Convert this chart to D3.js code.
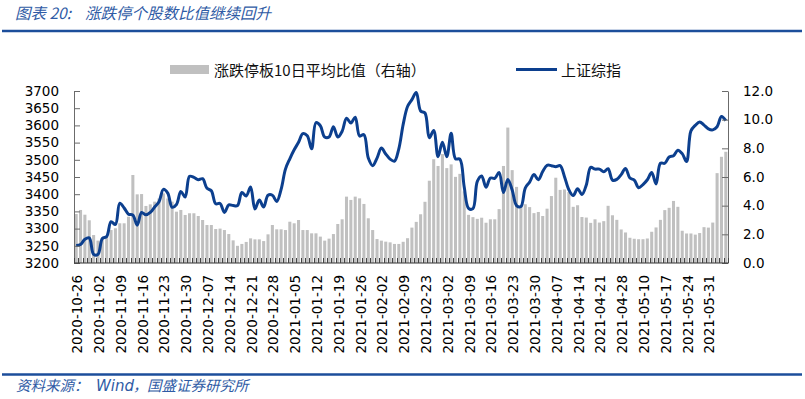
<!DOCTYPE html>
<html>
<head>
<meta charset="utf-8">
<script src="https://cdn.jsdelivr.net/npm/d3@7"></script>
<style>
  body { margin: 0; background: #fff; }
  svg { display: block; }
</style>
</head>
<body>
<svg id="chart" width="805" height="399"></svg>
<script>
// trading days shown on the category axis
const dates = [
  '2020-10-26','2020-10-27','2020-10-28','2020-10-29','2020-10-30',
  '2020-11-02','2020-11-03','2020-11-04','2020-11-05','2020-11-06',
  '2020-11-09','2020-11-10','2020-11-11','2020-11-12','2020-11-13',
  '2020-11-16','2020-11-17','2020-11-18','2020-11-19','2020-11-20',
  '2020-11-23','2020-11-24','2020-11-25','2020-11-26','2020-11-27',
  '2020-11-30','2020-12-01','2020-12-02','2020-12-03','2020-12-04',
  '2020-12-07','2020-12-08','2020-12-09','2020-12-10','2020-12-11',
  '2020-12-14','2020-12-15','2020-12-16','2020-12-17','2020-12-18',
  '2020-12-21','2020-12-22','2020-12-23','2020-12-24','2020-12-25',
  '2020-12-28','2020-12-29','2020-12-30','2020-12-31','2021-01-04',
  '2021-01-05','2021-01-06','2021-01-07','2021-01-08','2021-01-11',
  '2021-01-12','2021-01-13','2021-01-14','2021-01-15','2021-01-18',
  '2021-01-19','2021-01-20','2021-01-21','2021-01-22','2021-01-25',
  '2021-01-26','2021-01-27','2021-01-28','2021-01-29','2021-02-01',
  '2021-02-02','2021-02-03','2021-02-04','2021-02-05','2021-02-08',
  '2021-02-09','2021-02-10','2021-02-18','2021-02-19','2021-02-22',
  '2021-02-23','2021-02-24','2021-02-25','2021-02-26','2021-03-01',
  '2021-03-02','2021-03-03','2021-03-04','2021-03-05','2021-03-08',
  '2021-03-09','2021-03-10','2021-03-11','2021-03-12','2021-03-15',
  '2021-03-16','2021-03-17','2021-03-18','2021-03-19','2021-03-22',
  '2021-03-23','2021-03-24','2021-03-25','2021-03-26','2021-03-29',
  '2021-03-30','2021-03-31','2021-04-01','2021-04-02','2021-04-06',
  '2021-04-07','2021-04-08','2021-04-09','2021-04-12','2021-04-13',
  '2021-04-14','2021-04-15','2021-04-16','2021-04-19','2021-04-20',
  '2021-04-21','2021-04-22','2021-04-23','2021-04-26','2021-04-27',
  '2021-04-28','2021-04-29','2021-04-30','2021-05-06','2021-05-07',
  '2021-05-10','2021-05-11','2021-05-12','2021-05-13','2021-05-14',
  '2021-05-17','2021-05-18','2021-05-19','2021-05-20','2021-05-21',
  '2021-05-24','2021-05-25','2021-05-26','2021-05-27','2021-05-28',
  '2021-05-31','2021-06-01','2021-06-02','2021-06-03','2021-06-04'
];

// 涨跌停板10日平均比值 (right axis)
const limit_ratio = [
  3.42, 3.70, 3.37, 2.98, 1.95, 1.56, 1.75, 1.85, 2.30, 2.42,
  2.77, 2.77, 3.23, 6.14, 4.79, 4.81, 3.98, 4.09, 4.28, 4.50,
  4.86, 4.50, 4.28, 3.58, 3.70, 3.35, 3.47, 3.47, 3.28, 3.00,
  2.65, 2.65, 2.37, 2.40, 2.30, 2.02, 1.58, 1.20, 1.33, 1.47,
  1.72, 1.65, 1.65, 1.53, 2.00, 2.65, 2.35, 2.35, 2.30, 2.88,
  2.77, 3.00, 2.30, 2.30, 2.07, 2.07, 1.84, 1.56, 1.70, 2.02,
  2.72, 3.05, 4.63, 4.40, 4.63, 4.51, 4.12, 3.12, 2.30, 1.67,
  1.56, 1.49, 1.44, 1.33, 1.33, 1.48, 1.73, 2.47, 2.87, 3.40,
  4.27, 5.74, 7.24, 6.77, 7.60, 6.62, 6.88, 6.01, 6.22, 5.00,
  3.36, 3.20, 3.08, 3.16, 2.81, 3.05, 3.05, 3.76, 6.77, 9.45,
  6.48, 5.31, 4.00, 4.10, 3.90, 3.48, 3.56, 3.28, 3.79, 4.67,
  5.95, 5.10, 5.13, 4.95, 3.92, 4.03, 3.21, 3.17, 2.80, 3.05,
  2.82, 2.92, 3.99, 3.33, 3.01, 2.34, 2.13, 1.76, 1.69, 1.66,
  1.66, 1.71, 2.18, 2.48, 3.01, 3.69, 3.85, 4.33, 3.92, 2.25,
  2.06, 2.06, 1.98, 2.09, 2.50, 2.47, 2.82, 6.27, 7.41, 7.76
];

// 上证综指 (left axis)
const sh_index = [
  3251, 3254, 3269, 3273, 3225, 3225, 3271, 3277, 3320, 3312,
  3374, 3360, 3342, 3339, 3310, 3347, 3340, 3347, 3363, 3378,
  3414, 3403, 3362, 3370, 3408, 3392, 3452, 3449, 3442, 3445,
  3417, 3410, 3372, 3373, 3347, 3369, 3367, 3367, 3405, 3395,
  3421, 3357, 3383, 3363, 3397, 3397, 3379, 3414, 3473, 3503,
  3529, 3551, 3576, 3570, 3532, 3608, 3599, 3566, 3566, 3596,
  3566, 3583, 3621, 3607, 3624, 3569, 3573, 3505, 3483, 3505,
  3534, 3517, 3502, 3496, 3532, 3603, 3655, 3675, 3696, 3642,
  3636, 3564, 3585, 3509, 3551, 3509, 3577, 3503, 3502, 3421,
  3359, 3358, 3437, 3453, 3420, 3447, 3446, 3463, 3405, 3443,
  3412, 3367, 3364, 3418, 3435, 3457, 3442, 3466, 3484, 3483,
  3480, 3483, 3451, 3413, 3396, 3416, 3399, 3427, 3478, 3473,
  3473, 3465, 3474, 3441, 3443, 3457, 3475, 3447, 3441, 3419,
  3428, 3442, 3463, 3430, 3490, 3490, 3508, 3512, 3528, 3518,
  3495, 3584, 3600, 3610, 3601, 3590, 3587, 3596, 3626, 3614
];

const left_ticks = [3200, 3250, 3300, 3350, 3400, 3450, 3500, 3550, 3600, 3650, 3700];
const right_ticks = [0, 2, 4, 6, 8, 10, 12];
const tick_dates = dates.filter((d, i) => i % 5 === 0);

const bar_name = '涨跌停板10日平均比值（右轴）';
const line_name = '上证综指';

const blue = '#0c3f8e';
const grey = '#c0c0c0';
const axis_font = '"DejaVu Sans", Verdana, sans-serif';
const cjk_font = '"Noto Sans CJK SC", "Noto Sans", sans-serif';

const svg = d3.select('#chart');
const plot = { left: 74, right: 728, top: 91, bottom: 263 };

const x = d3.scaleBand()
  .domain(dates)
  .range([plot.left, plot.right])
  .paddingInner(0.3)
  .paddingOuter(0.15);
const y_left = d3.scaleLinear().domain([3200, 3700]).range([plot.bottom, plot.top]);
const y_right = d3.scaleLinear().domain([0, 12]).range([plot.bottom, plot.top]);
const mid = (d) => x(d) + x.bandwidth() / 2;

// title and rules
svg.append('text')
  .attr('x', 15)
  .attr('y', 19)
  .attr('fill', '#2f5ba5')
  .attr('font-family', cjk_font)
  .attr('font-style', 'italic')
  .attr('font-size', 15.5)
  .call((t) => {
    t.append('tspan').text('图表 20:');
    t.append('tspan').attr('x', 85).text('涨跌停个股数比值继续回升');
  });

svg.append('line')
  .attr('x1', 2).attr('x2', 802)
  .attr('y1', 31).attr('y2', 31)
  .attr('stroke', '#1c4e9b')
  .attr('stroke-width', 2.4);

svg.append('line')
  .attr('x1', 2).attr('x2', 802)
  .attr('y1', 374.5).attr('y2', 374.5)
  .attr('stroke', '#1c4e9b')
  .attr('stroke-width', 2.4);

svg.append('text')
  .attr('x', 16)
  .attr('y', 391)
  .attr('fill', '#2f5ba5')
  .attr('font-family', cjk_font)
  .attr('font-style', 'italic')
  .attr('font-size', 14.5)
  .call((t) => {
    t.append('tspan').text('资料来源：');
    t.append('tspan').attr('x', 96).attr('font-family', axis_font).attr('font-size', 15).text('Wind');
    t.append('tspan').attr('x', 133).text('，');
    t.append('tspan').attr('x', 147).text('国盛证券研究所');
  });

// legend
svg.append('rect')
  .attr('x', 170).attr('y', 65)
  .attr('width', 39).attr('height', 9)
  .attr('fill', grey);
svg.append('text')
  .attr('x', 214).attr('y', 69.5)
  .attr('dominant-baseline', 'central')
  .attr('font-family', cjk_font)
  .attr('font-size', 15)
  .attr('fill', '#111')
  .text(bar_name);
svg.append('line')
  .attr('x1', 516).attr('x2', 557)
  .attr('y1', 69.5).attr('y2', 69.5)
  .attr('stroke', blue)
  .attr('stroke-width', 3);
svg.append('text')
  .attr('x', 561).attr('y', 69.5)
  .attr('dominant-baseline', 'central')
  .attr('font-family', cjk_font)
  .attr('font-size', 15)
  .attr('fill', '#111')
  .text(line_name);

// bars
svg.append('g')
  .selectAll('rect')
  .data(dates)
  .enter()
  .append('rect')
  .attr('x', (d) => x(d))
  .attr('width', x.bandwidth())
  .attr('y', (d, i) => y_right(limit_ratio[i]))
  .attr('height', (d, i) => plot.bottom - y_right(limit_ratio[i]))
  .attr('fill', grey);

// index line
const line = d3.line()
  .x((d) => mid(d))
  .y((d, i) => y_left(sh_index[i]))
  .curve(d3.curveCatmullRom.alpha(0.5));

svg.append('path')
  .datum(dates)
  .attr('d', line)
  .attr('fill', 'none')
  .attr('stroke', blue)
  .attr('stroke-width', 3)
  .attr('stroke-linejoin', 'round');

// axes
const axis_color = '#6b6b6b';

const left_axis = svg.append('g')
  .attr('transform', `translate(${plot.left},0)`)
  .call(d3.axisLeft(y_left).tickValues(left_ticks).tickSizeInner(-6).tickSizeOuter(0)
    .tickPadding(15).tickFormat(d3.format('d')));
const right_axis = svg.append('g')
  .attr('transform', `translate(${plot.right},0)`)
  .call(d3.axisRight(y_right).tickValues(right_ticks).tickSizeInner(-6).tickSizeOuter(0)
    .tickPadding(15).tickFormat(d3.format('.1f')));

[left_axis, right_axis].forEach((g) => {
  g.select('.domain').attr('stroke', axis_color);
  g.selectAll('.tick line').attr('stroke', axis_color);
  g.selectAll('.tick text')
    .attr('font-family', axis_font)
    .attr('font-size', 13.5)
    .attr('fill', '#000');
});

// category axis: a tick at every band boundary, pointing into the plot
const bottom = svg.append('g');
bottom.append('line')
  .attr('x1', plot.left).attr('x2', plot.right)
  .attr('y1', plot.bottom).attr('y2', plot.bottom)
  .attr('stroke', '#333');
bottom.selectAll('.cat-tick')
  .data(dates.concat(['end']))
  .enter()
  .append('line')
  .attr('class', 'cat-tick')
  .attr('x1', (d, i) => Math.round(plot.left + i * x.step()) + 0.5)
  .attr('x2', (d, i) => Math.round(plot.left + i * x.step()) + 0.5)
  .attr('y1', plot.bottom)
  .attr('y2', plot.bottom - 5)
  .attr('stroke', '#444');

bottom.selectAll('.date-label')
  .data(tick_dates)
  .enter()
  .append('text')
  .attr('class', 'date-label')
  .attr('transform', (d) => `translate(${mid(d) + 1},275) rotate(-90)`)
  .attr('text-anchor', 'end')
  .attr('dominant-baseline', 'central')
  .attr('font-family', axis_font)
  .attr('font-size', 13.5)
  .attr('fill', '#000')
  .text((d) => d);
</script>
</body>
</html>
